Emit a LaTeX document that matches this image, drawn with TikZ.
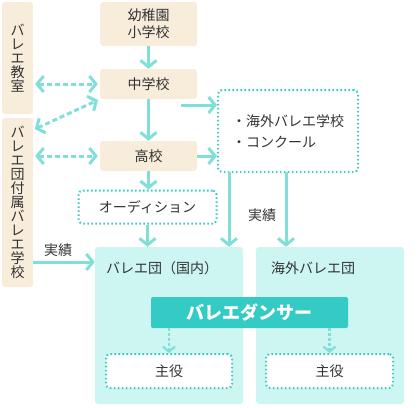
\documentclass[tikz,border=0pt]{standalone}
\usepackage{fontspec}
\setmainfont{Noto Sans CJK JP}
\usetikzlibrary{arrows.meta}
\definecolor{beige}{HTML}{F8ECDB}
\definecolor{flowc}{HTML}{80E0D8}
\definecolor{dotc}{HTML}{3CCAC2}
\definecolor{palec}{HTML}{CDF6F3}
\definecolor{dancerc}{HTML}{33CBC3}
\definecolor{textc}{HTML}{333333}
\begin{document}
\begin{tikzpicture}[x=1pt,y=-1pt,
  every node/.style={text=textc,font=\fontsize{14}{14}\selectfont,inner sep=0pt},
  school/.style={fill=beige,rounded corners=3pt},
  dotbox/.style={draw=dotc,fill=white,line width=2pt,dash pattern=on 1.6pt off 2.4pt,rounded corners=4pt},
  company/.style={fill=palec,rounded corners=3pt},
  flow/.style={draw=flowc,line width=3pt,-{Straight Barb[length=6.5pt,width=16pt]}},
  link/.style={draw=flowc,line width=3pt,dash pattern=on 5pt off 3pt,{Straight Barb[length=6.5pt,width=16pt]}-{Straight Barb[length=6.5pt,width=16pt]},shorten <=2pt,shorten >=2pt},
  sub/.style={draw=flowc,line width=2.2pt,dash pattern=on 3pt off 2pt,-{Straight Barb[length=5pt,width=12pt]}}]
\useasboundingbox (0,0) rectangle (420,407);
% schools
\node[school,minimum width=97pt,minimum height=44pt,align=center,font=\fontsize{14}{17}\selectfont] (kinder) at (148.5,24) {幼稚園\\小学校};
\node[school,minimum width=97pt,minimum height=30pt] (chu) at (148.5,84) {中学校};
\node[school,minimum width=97pt,minimum height=30pt] (kou) at (148.5,156) {高校};
\node[school,minimum width=31pt,minimum height=112pt,align=center] (kyoshitsu) at (17.5,58) {バ\\レ\\エ\\教\\室};
\node[school,minimum width=31pt,minimum height=169pt,align=center] (fuzoku) at (17.5,202.5) {バ\\レ\\エ\\団\\付\\属\\バ\\レ\\エ\\学\\校};
% dotted boxes
\node[dotbox,minimum width=140pt,minimum height=82pt,align=left,font=\fontsize{14}{21}\selectfont] (abroad) at (288,131) {・海外バレエ学校\\・コンクール};
\node[dotbox,minimum width=138pt,minimum height=33pt] (audition) at (147.5,207) {オーディション};
% companies
\node[company,minimum width=148pt,minimum height=157pt] (domestic) at (169,325.5) {};
\node[company,minimum width=148pt,minimum height=157pt] (overseas) at (330,325.5) {};
\node[anchor=west] (domlabel) at (106,268) {バレエ団（国内）};
\node[anchor=west] (ovlabel) at (271,268) {海外バレエ団};
\node[fill=dancerc,rounded corners=2pt,minimum width=197pt,minimum height=31pt,text=white,font=\fontsize{18}{20}\selectfont\bfseries] (dancer) at (249.5,312.5) {バレエダンサー};
\node[dotbox,minimum width=126pt,minimum height=34pt] (lead1) at (169,371) {主役};
\node[dotbox,minimum width=127pt,minimum height=34pt] (lead2) at (329.5,371) {主役};
% arrows
\coordinate (chuout) at (181,105);
\coordinate (split1) at (229,172);
\coordinate (split2) at (286,172);
\coordinate (fzout) at (33,262);
\coordinate (fzup) at (33,130);
\draw[flow] (kinder) -- (chu);
\draw[flow] (chu) -- (kou);
\draw[flow] (kou.south) -- (kou.south |- audition.north);
\draw[flow] (audition.south) -- (audition.south |- domestic.north);
\draw[flow] (chuout) -- (chuout -| abroad.west);
\draw[flow] (kou.east) -- (kou.east -| abroad.west);
\draw[flow] (split1) -- (split1 |- domestic.north);
\draw[flow] (split2) -- (split2 |- overseas.north);
\draw[flow] (fzout) -- (fzout -| domestic.west);
\draw[link] (kyoshitsu.east |- chu.west) -- (chu.west);
\draw[link] (fzup) -- (chu.south west);
\draw[link] (fuzoku.east |- kou.west) -- (kou.west);
\draw[sub] (dancer.south -| lead1.north) -- (lead1.north);
\draw[sub] (dancer.south -| lead2.north) -- (lead2.north);
\node (result1) at (58,250) {実績};
\node (result2) at (262,215) {実績};
\end{tikzpicture}
\end{document}
